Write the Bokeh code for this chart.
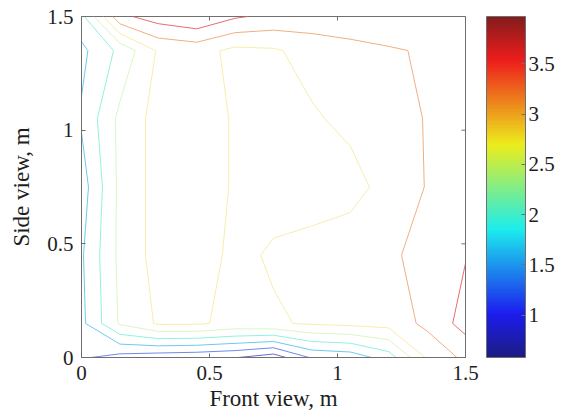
import numpy as np
from bokeh.plotting import figure
from bokeh.models import (ColorBar, LinearColorMapper, FixedTicker,
                          CustomJSTickFormatter, Range1d)
from bokeh.embed import file_html
from bokeh.resources import INLINE

# ---- data ----
x_nodes = [0.0, 0.15, 0.3, 0.45, 0.6, 0.75, 0.9, 1.05, 1.2, 1.35, 1.5]
y_nodes = [0.0, 0.15, 0.45, 0.75, 1.05, 1.35, 1.5]
z_y000 = [1.25, 1.05, 0.95, 0.90, 0.82, 0.58, 1.25, 1.35, 1.80, 2.85, 3.30]
z_y015 = [1.50, 2.45, 2.85, 2.85, 2.70, 2.75, 2.85, 2.90, 2.95, 3.30, 3.75]
z_y045 = [1.55, 2.50, 2.95, 3.00, 2.70, 2.85, 2.95, 3.05, 3.15, 3.30, 3.58]
z_y075 = [1.40, 2.50, 2.95, 3.00, 2.76, 2.65, 2.60, 2.65, 2.95, 3.22, 3.40]
z_y105 = [1.65, 2.50, 2.95, 3.00, 2.76, 2.65, 2.75, 2.90, 3.05, 3.22, 3.35]
z_y135 = [1.50, 2.10, 2.85, 2.95, 2.70, 2.75, 2.95, 3.05, 3.15, 3.25, 3.35]
z_y150 = [1.88, 3.50, 3.80, 3.97, 3.65, 3.50, 3.45, 3.50, 3.55, 3.50, 3.45]
contour_levels = [0.8, 1.2, 1.6, 2.0, 2.4, 2.8, 3.2, 3.6]
axis_ticks = [0, 0.5, 1, 1.5]
cbar_ticks = [1, 1.5, 2, 2.5, 3, 3.5]
z_low, z_high = 0.58, 3.97

FONT = "Liberation Serif"
AX = "#6f6f6f"
TXT = "#1e1e1e"


def jet(t):
    t = float(np.clip(t, 0, 1))
    r = np.clip(1.5 - abs(4 * t - 3), 0, 1)
    g = np.clip(1.5 - abs(4 * t - 2), 0, 1)
    b = np.clip(1.5 - abs(4 * t - 1), 0, 1)
    return r, g, b


def mix(rgb, amount, toward):
    return tuple((1 - amount) * c + amount * toward for c in rgb)


def to_hex(rgb):
    return "#%02x%02x%02x" % tuple(int(round(255 * c)) for c in rgb)


Z = np.array([z_y000, z_y015, z_y045, z_y075, z_y105, z_y135, z_y150])
X = np.array(x_nodes)
Y = np.array(y_nodes)

line_colors = []
for lv in contour_levels:
    t = (lv - z_low) / (z_high - z_low)
    fade = 0.35 + 0.32 * np.exp(-((t - 0.6) / 0.15) ** 2)
    line_colors.append(to_hex(mix(mix(jet(t), 0.2, 0.55), fade, 1.0)))
palette = [to_hex(mix(jet(i / 255), 0.18, 0.6)) for i in range(256)]

p = figure(width=560, height=418, x_range=Range1d(0, 1.5), y_range=Range1d(0, 1.5),
           output_backend="svg", toolbar_location=None,
           min_border_left=81, min_border_right=95, min_border_top=16, min_border_bottom=61)
p.xgrid.visible = False
p.ygrid.visible = False
p.outline_line_color = AX
p.background_fill_color = "white"

p.contour(X, Y, Z, contour_levels, line_color=line_colors, line_width=1.0, fill_color=None)

# inward tick marks on the top and right edges of the box
n = len(axis_ticks)
p.scatter(axis_ticks, [axis_ticks[-1]] * n, marker="dash", size=8, angle=np.pi / 2,
          line_color=AX, line_width=1)
p.scatter([axis_ticks[-1]] * n, axis_ticks, marker="dash", size=8,
          line_color=AX, line_width=1)

fmt = CustomJSTickFormatter(code="return String(Math.round(tick*100)/100);")
for ax in (p.xaxis[0], p.yaxis[0]):
    ax.ticker = FixedTicker(ticks=axis_ticks)
    ax.formatter = fmt
    ax.major_tick_in = 4
    ax.major_tick_out = 0
    ax.minor_tick_line_color = None
    ax.axis_line_color = AX
    ax.major_tick_line_color = AX
    ax.major_label_text_font = FONT
    ax.major_label_text_font_size = "21px"
    ax.major_label_text_color = TXT
    ax.axis_label_text_font = FONT
    ax.axis_label_text_font_size = "23px"
    ax.axis_label_text_font_style = "normal"
    ax.axis_label_text_color = TXT
p.xaxis[0].axis_label = "Front view, m"
p.yaxis[0].axis_label = "Side view, m"
p.xaxis[0].major_label_standoff = 8
p.xaxis[0].axis_label_standoff = 3
p.yaxis[0].major_label_standoff = 8
p.yaxis[0].axis_label_standoff = 10

mapper = LinearColorMapper(palette=palette, low=z_low, high=z_high)
cb = ColorBar(color_mapper=mapper, ticker=FixedTicker(ticks=cbar_ticks), formatter=fmt,
              width=39, height=341, location=(21, 0), padding=0, margin=0,
              bar_line_color=AX, major_tick_line_color=AX, major_tick_in=4, major_tick_out=0,
              minor_tick_line_color=None, label_standoff=3,
              major_label_text_font=FONT, major_label_text_font_size="21px",
              major_label_text_color=TXT, background_fill_alpha=0, border_line_color=None)
p.add_layout(cb, "right")

open("out.html", "w").write(file_html(p, INLINE))
